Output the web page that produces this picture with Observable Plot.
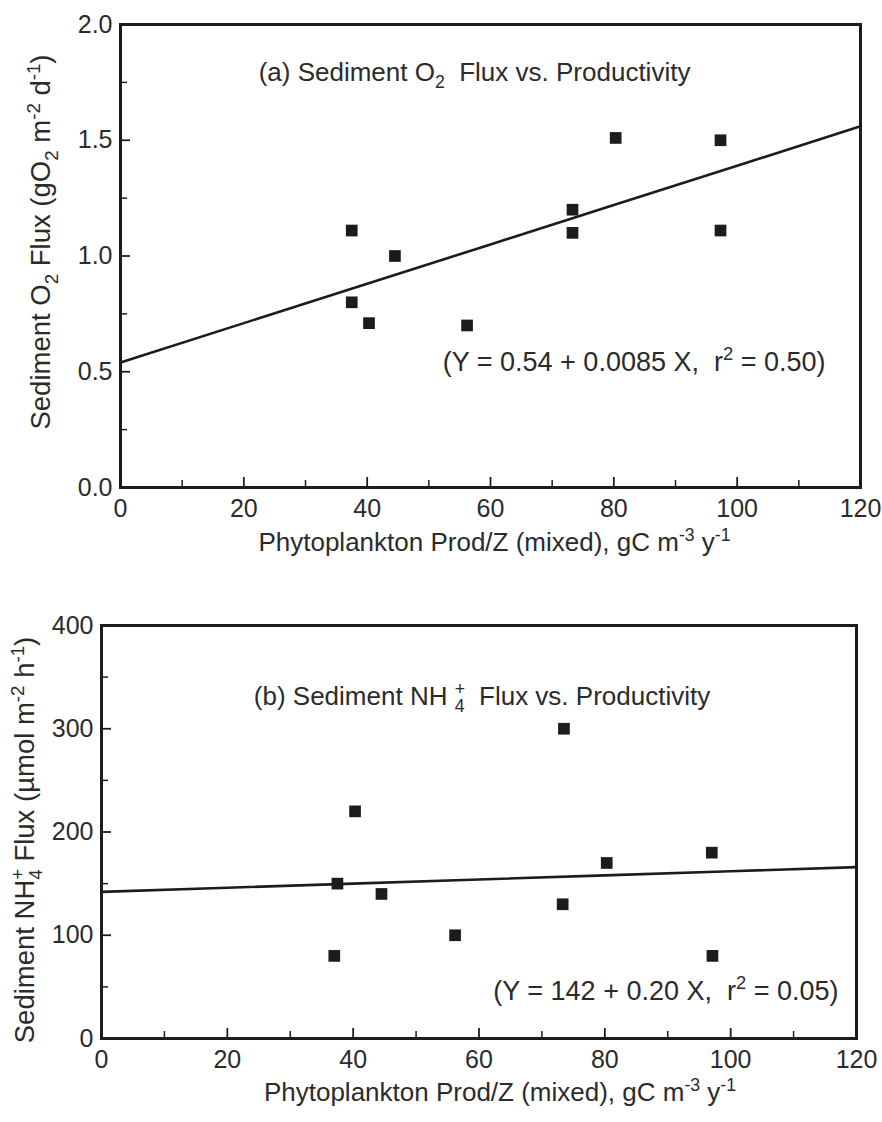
<!DOCTYPE html>
<html><head><meta charset="utf-8">
<script src="https://cdn.jsdelivr.net/npm/d3@7"></script>
<script src="https://cdn.jsdelivr.net/npm/@observablehq/plot@0.6"></script>
<style>
body{margin:0;background:#fff;}
#chart svg{display:block;}
</style></head><body><div id="chart"></div>
<script>
// ---- data ----
const prodA = [37.5, 37.5, 40.3, 44.5, 56.2, 73.3, 73.3, 80.3, 97.3, 97.3];
const o2Flux = [1.11, 0.80, 0.71, 1.00, 0.70, 1.20, 1.10, 1.51, 1.50, 1.11];
const prodB = [37.5, 37.0, 40.3, 44.5, 56.2, 73.5, 73.3, 80.3, 97.0, 97.1];
const nh4Flux = [150, 80, 220, 140, 100, 300, 130, 170, 180, 80];
const fitA = {intercept: 0.54, slope: 0.0085};
const fitB = {intercept: 142, slope: 0.20};
const xTicks = [0, 20, 40, 60, 80, 100, 120];
const xMinor = [10, 30, 50, 70, 90, 110];
const yTicksA = [0, 0.5, 1.0, 1.5, 2.0];
const yMinorA = [0.25, 0.75, 1.25, 1.75];
const yTicksB = [0, 100, 200, 300, 400];
const yMinorB = [50, 150, 250, 350];
const titleA = "(a) Sediment O_{2}  Flux vs. Productivity";
const titleB = "(b) Sediment NH ^{+}_{4}  Flux vs. Productivity";
const eqA = "(Y = 0.54 + 0.0085 X,  r^{2} = 0.50)";
const eqB = "(Y = 142 + 0.20 X,  r^{2} = 0.05)";
const yLabelA = "Sediment O_{2} Flux (gO_{2} m^{-2} d^{-1})";
const yLabelB = "Sediment NH^{+}_{4} Flux (µmol m^{-2} h^{-1})";
const xLabel = "Phytoplankton Prod/Z (mixed), gC m^{-3} y^{-1}";

const INK = "#1c1c1c";
const TXT = "#2b2b2b";
const FONT = "'Liberation Sans', Arial, Helvetica, sans-serif";

function panel(cfg) {
  const W = 882;
  const frameW = W - cfg.ml - cfg.mr;
  const frameH = cfg.h - cfg.mt - cfg.mb;
  const idx = d3.range(cfg.xs.length);
  const fit = cfg.fit;
  return Plot.plot({
    width: W, height: cfg.h,
    marginLeft: cfg.ml, marginRight: cfg.mr, marginTop: cfg.mt, marginBottom: cfg.mb,
    style: {fontFamily: FONT, fontSize: "25px", color: TXT, background: "#fff", overflow: "visible"},
    x: {domain: [0, 120]},
    y: {domain: cfg.yDomain},
    marks: [
      Plot.ruleX(xTicks, {stroke: INK, strokeWidth: 1.8, insetTop: frameH - 10}),
      Plot.ruleX(xMinor, {stroke: INK, strokeWidth: 1.5, insetTop: frameH - 7}),
      Plot.ruleY(cfg.yTicks, {stroke: INK, strokeWidth: 1.8, insetRight: frameW - 10}),
      Plot.ruleY(cfg.yMinor, {stroke: INK, strokeWidth: 1.5, insetRight: frameW - 7}),
      Plot.axisX({ticks: xTicks, tickSize: 0, tickPadding: 12, fontSize: 25, label: null, fill: TXT}),
      Plot.axisY({ticks: cfg.yTicks, tickSize: 0, tickPadding: cfg.yPad, fontSize: 25, label: null, fill: TXT, tickFormat: cfg.yFormat}),
      Plot.line(xTicks, {x: d => d, y: d => fit.intercept + fit.slope * d, stroke: INK, strokeWidth: 2.6}),
      Plot.dot(idx, {x: i => cfg.xs[i], y: i => cfg.ys[i], symbol: "square", r: 6.6, fill: INK, stroke: "none"}),
      Plot.frame({stroke: INK, strokeWidth: 3}),
      Plot.text([cfg.title], {frameAnchor: "top", dx: cfg.titleDx, dy: cfg.titleDy, fontSize: 26, fill: TXT}),
      Plot.text([cfg.eq], {frameAnchor: "bottom-right", textAnchor: "end", dx: cfg.eqDx, dy: cfg.eqDy, fontSize: 27, fill: TXT}),
      Plot.text([cfg.yLabel], {frameAnchor: "left", textAnchor: "middle", rotate: -90, dx: cfg.ylDx, dy: cfg.ylDy, fontSize: 27.5, fill: TXT}),
      Plot.text([xLabel], {frameAnchor: "bottom", dx: cfg.xlDx, dy: cfg.xlDy, fontSize: 26, fill: TXT})
    ]
  });
}

// convert "_{..}" / "^{..}" markup into tspans
function richify(svg) {
  svg.querySelectorAll("text").forEach(t => {
    const s = t.textContent;
    if (!/[\^_]\{/.test(s)) return;
    const fs = parseFloat(getComputedStyle(t).fontSize) || 25;
    while (t.firstChild) t.removeChild(t.firstChild);
    const re = /([\^_])\{([^}]*)\}/g;
    let last = 0, offset = 0, m, prevSup = null;
    const NS = "http://www.w3.org/2000/svg";
    const add = (txt, kind) => {
      const ts = document.createElementNS(NS, "tspan");
      ts.textContent = txt;
      let target = 0;
      if (kind === "^") { target = -0.38 * fs; ts.setAttribute("font-size", (0.68 * fs) + "px"); }
      else if (kind === "_") { target = 0.28 * fs; ts.setAttribute("font-size", (0.68 * fs) + "px"); }
      const dy = target - offset;
      if (dy !== 0) ts.setAttribute("dy", dy + "px");
      if (kind === "_" && prevSup !== null) ts.setAttribute("dx", (-prevSup) + "px");
      offset = target;
      t.appendChild(ts);
    };
    while ((m = re.exec(s))) {
      const plain = s.slice(last, m.index);
      if (plain) { add(plain, null); prevSup = null; }
      add(m[2], m[1]);
      prevSup = m[1] === "^" ? m[2].length * 0.58 * 0.68 * fs : null;
      last = re.lastIndex;
    }
    const rest = s.slice(last);
    if (rest) add(rest, null);
  });
}

const a = panel({
  h: 580, ml: 120, mr: 22, mt: 24, mb: 93,
  xs: prodA, ys: o2Flux, fit: fitA, yDomain: [0, 2],
  yTicks: yTicksA, yMinor: yMinorA, yPad: 8, yFormat: d3.format(".1f"),
  title: titleA, titleDx: -16, titleDy: 38,
  eq: eqA, eqDx: -35, eqDy: -117,
  yLabel: yLabelA, ylDx: -79, ylDy: -14,
  xlDx: 4, xlDy: 63
});
const b = panel({
  h: 542, ml: 101, mr: 26, mt: 45, mb: 84,
  xs: prodB, ys: nh4Flux, fit: fitB, yDomain: [0, 400],
  yTicks: yTicksB, yMinor: yMinorB, yPad: 8, yFormat: d3.format("d"),
  title: titleB, titleDx: 3, titleDy: 61,
  eq: eqB, eqDx: -18, eqDy: -39,
  yLabel: yLabelB, ylDx: -76, ylDy: 8,
  xlDx: 21, xlDy: 62
});
const chart = document.getElementById("chart");
chart.appendChild(a);
chart.appendChild(b);
richify(a); richify(b);
</script>
</body></html>
